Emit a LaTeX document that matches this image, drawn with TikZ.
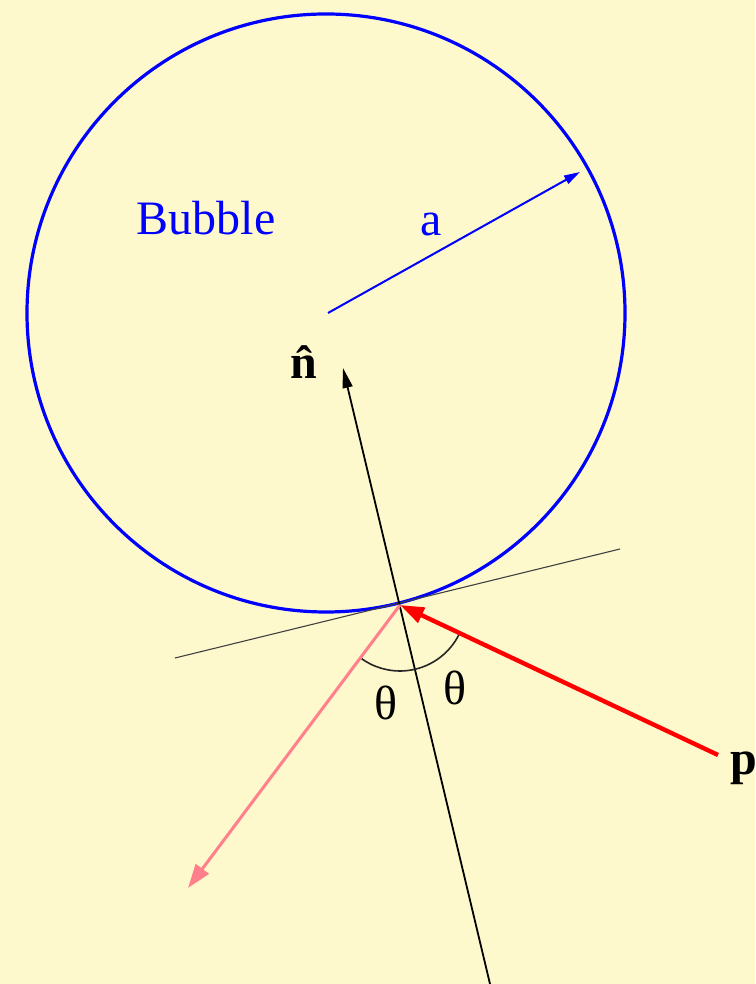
\documentclass[tikz,border=0pt]{standalone}
\usepackage{fontspec}
\setmainfont{Liberation Serif}
\usepackage{xcolor}
\usetikzlibrary{arrows.meta, positioning, calc}
\definecolor{bgyellow}{HTML}{FEF8CD}
\definecolor{pinkray}{HTML}{FF7F8A}
\begin{document}
\begin{tikzpicture}[
    x=0.5pt, y=0.5pt,
    lbl/.style={font=\fontsize{24}{28}\selectfont, inner sep=0pt},
    arr/.style={-{Triangle[length=#1]}},
    arr/.default=10pt
]
\fill[bgyellow] (0,0) rectangle (755,984);
\useasboundingbox (0,0) rectangle (755,984);

\coordinate (centre) at (326,671);
\coordinate (contact) at (400,379);
\coordinate (rim) at (580,812);
\coordinate (normtail) at (490,0);
\coordinate (normtip) at (343,616);
\coordinate (tanL) at (175,326);
\coordinate (tanR) at (620,435);
\coordinate (pstart) at (718,229);
\coordinate (outend) at (188,96);

\node[lbl, text=blue] (bubble) at (206,766) {Bubble};
\node[lbl, text=blue] (rad) at (431,760) {a};
\node[lbl] (nhat) at (308,622) {\textbf{\^n}};
\node[lbl] (plabel) at (744,216) {\textbf{p}};
\node[lbl] (thL) at (386,281) {θ};
\node[lbl] (thR) at (455,296) {θ};

\draw[blue, line width=1.6pt] (centre) circle[radius=149.5pt];
\draw[blue, line width=1pt, -{Triangle[length=8pt, width=4.5pt]}] ($(centre)+(2,0)$) -- (rim);
\draw[black!75, line width=0.55pt] (tanL) -- (tanR);
\draw[line width=0.9pt, -{Triangle[length=10pt, width=5pt]}] (normtail) -- (normtip);
\draw[black!85, line width=0.8pt] ([shift={(-25.3:33pt)}]contact) arc[start angle=-25.3, end angle=-126.8, radius=33pt];
\draw[pinkray, line width=1.5pt, -{Triangle[length=12pt, width=8pt]}] (contact) -- (outend);
\draw[red, line width=2.2pt, -{Triangle[length=12pt, width=8pt]}] (pstart) -- (contact);
\end{tikzpicture}
\end{document}
